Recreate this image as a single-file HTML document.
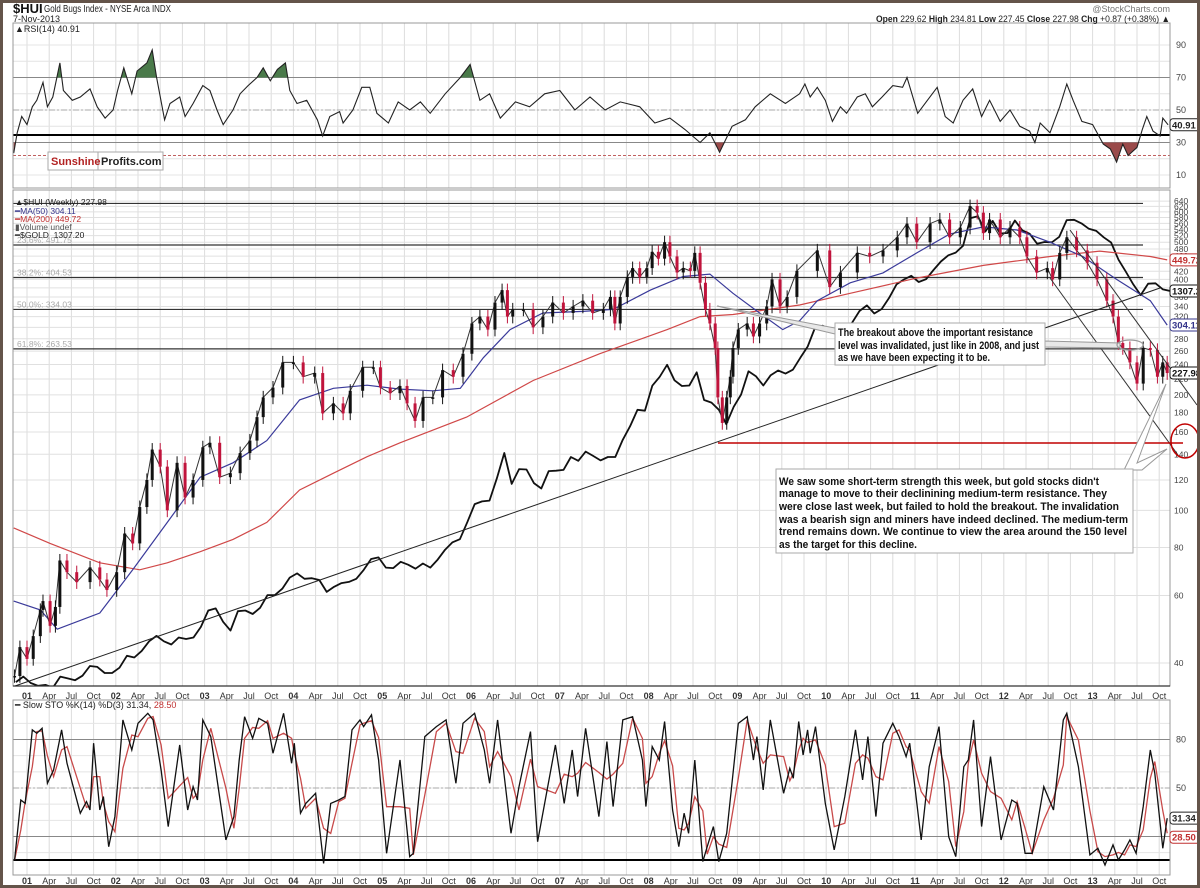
<!DOCTYPE html>
<html><head><meta charset="utf-8">
<style>
html,body{margin:0;padding:0;background:#fff;}
svg{display:block;font-family:"Liberation Sans",Arial,sans-serif;}
</style></head>
<body>
<svg id="chart" width="1200" height="888" viewBox="0 0 1200 888" xmlns="http://www.w3.org/2000/svg">
  <defs>
    <clipPath id="clipMain"><rect x="13" y="190" width="1157" height="496"/></clipPath>
    <clipPath id="clipRsi"><rect x="13" y="23" width="1157" height="165"/></clipPath>
    <clipPath id="clipSto"><rect x="13" y="700" width="1157" height="175"/></clipPath>
    <clipPath id="clipAbove70"><rect x="13" y="23" width="1157" height="54.5"/></clipPath>
    <clipPath id="clipBelow30"><rect x="13" y="142.5" width="1157" height="46"/></clipPath>
  </defs>
  <rect x="0" y="0" width="1200" height="888" fill="#fff"/>
  <g id="grid"></g>
  <g id="series"></g>
  <g id="labels"></g>

  <rect x="13" y="23" width="1157" height="165" fill="none" stroke="#999"/>
  <rect x="13" y="190" width="1157" height="496" fill="none" stroke="#999"/>
  <line x1="13" y1="686" x2="1170" y2="686" stroke="#333" stroke-width="1.2"/>
  <rect x="13" y="700" width="1157" height="175" fill="none" stroke="#999"/>

  <text x="13" y="13" font-size="13" font-weight="bold" fill="#111">$HUI</text>
  <text x="44" y="12" font-size="10" fill="#222" textLength="127" lengthAdjust="spacingAndGlyphs">Gold Bugs Index - NYSE Arca INDX</text>
  <text x="13" y="22" font-size="9" fill="#222">7-Nov-2013</text>
  <text x="1170" y="12" font-size="9" fill="#777" text-anchor="end">@StockCharts.com</text>
  <text x="1170" y="22" font-size="9.5" fill="#222" text-anchor="end" textLength="294" lengthAdjust="spacingAndGlyphs"><tspan font-weight="bold">Open</tspan> 229.62 <tspan font-weight="bold">High</tspan> 234.81 <tspan font-weight="bold">Low</tspan> 227.45 <tspan font-weight="bold">Close</tspan> 227.98 <tspan font-weight="bold">Chg</tspan> +0.87 (+0.38%) ▲</text>

  <text x="15" y="32" font-size="9" fill="#222">▲RSI(14) 40.91</text>

  <g>
    <rect x="48" y="152" width="115" height="18" fill="#fff" stroke="#aaa"/>
    <line x1="98" y1="152" x2="98" y2="170" stroke="#aaa"/>
    <text x="51" y="165" font-size="11" font-weight="bold" fill="#b22222">Sunshine</text>
    <text x="101" y="165" font-size="11" font-weight="bold" fill="#222">Profits.com</text>
  </g>

  <g font-size="8.5">
    <text x="15" y="205" fill="#222">▲$HUI (Weekly) 227.98</text>
    <text x="15" y="214" fill="#33338a">━MA(50) 304.11</text>
    <text x="15" y="222" fill="#c03030">━MA(200) 449.72</text>
    <text x="15" y="230" fill="#555">▮Volume undef</text>
    <text x="15" y="238" fill="#222">━$GOLD&#160; 1307.20</text>
  </g>

  <text x="15" y="708" font-size="9" fill="#222">━ Slow STO %K(14) %D(3) 31.34, <tspan fill="#c03030">28.50</tspan></text>

  <g id="annot">
    <line x1="15" y1="686" x2="1160" y2="288" stroke="#222" stroke-width="1"/>
    <line x1="1050" y1="278" x2="1178" y2="455" stroke="#333" stroke-width="1"/>
    <line x1="1070" y1="230" x2="1197" y2="405" stroke="#333" stroke-width="1"/>
    <line x1="718" y1="443" x2="1183" y2="443" stroke="#c00000" stroke-width="1.5"/>
    <ellipse cx="1185" cy="441" rx="14" ry="17" fill="none" stroke="#c00000" stroke-width="1.5"/>
    <polygon points="717,306 835,328 835,334" fill="#e8e8e8" stroke="#999" stroke-width="1"/>
    <polygon points="1045,341 1120,343 1120,348 1045,347" fill="#e8e8e8" stroke="#999" stroke-width="1"/>
    <ellipse cx="1130" cy="345" rx="13" ry="5" fill="none" stroke="#999" stroke-width="1.2"/>
    <rect x="835" y="323" width="210" height="42" fill="#fff" stroke="#aaa"/>
    <g font-size="11" font-weight="bold" fill="#111">
      <text x="838" y="336" textLength="195" lengthAdjust="spacingAndGlyphs">The breakout above the important resistance</text>
      <text x="838" y="349" textLength="201" lengthAdjust="spacingAndGlyphs">level was invalidated, just like in 2008, and just</text>
      <text x="838" y="361" textLength="152" lengthAdjust="spacingAndGlyphs">as we have been expecting it to be.</text>
    </g>
    <polygon points="1124,470 1166,384 1137,463 1167,449 1142,470" fill="#fff" stroke="#999" stroke-width="1"/>
    <rect x="776" y="469" width="357" height="84" fill="#fff" stroke="#aaa"/>
    <g font-size="11" font-weight="bold" fill="#111">
      <text x="779" y="485" textLength="320" lengthAdjust="spacingAndGlyphs">We saw some short-term strength this week, but gold stocks didn't</text>
      <text x="779" y="497" textLength="328" lengthAdjust="spacingAndGlyphs">manage to move to their declinining medium-term resistance. They</text>
      <text x="779" y="510" textLength="340" lengthAdjust="spacingAndGlyphs">were close last week, but failed to hold the breakout. The invalidation</text>
      <text x="779" y="523" textLength="349" lengthAdjust="spacingAndGlyphs">was a bearish sign and miners have indeed declined. The medium-term</text>
      <text x="779" y="535" textLength="348" lengthAdjust="spacingAndGlyphs">trend remains down. We continue to view the area around the 150 level</text>
      <text x="779" y="548" textLength="138" lengthAdjust="spacingAndGlyphs">as the target for this decline.</text>
    </g>
  </g>
  <g id="valueboxes"></g>
  <rect x="1.5" y="1.5" width="1197" height="885" fill="none" stroke="#64544a" stroke-width="3"/>
</svg>
<script>
const huiDates = [2000.86,2000.92,2001.00,2001.07,2001.15,2001.18,2001.26,2001.32,2001.37,2001.45,2001.56,2001.71,2001.82,2001.90,2002.01,2002.10,2002.19,2002.27,2002.35,2002.41,2002.50,2002.58,2002.69,2002.78,2002.87,2002.98,2003.06,2003.17,2003.29,2003.40,2003.51,2003.59,2003.66,2003.77,2003.88,2004.00,2004.11,2004.24,2004.33,2004.45,2004.56,2004.64,2004.78,2004.90,2004.98,2005.09,2005.20,2005.28,2005.37,2005.46,2005.57,2005.68,2005.80,2005.91,2006.01,2006.10,2006.19,2006.27,2006.35,2006.41,2006.47,2006.59,2006.70,2006.81,2006.92,2007.04,2007.15,2007.26,2007.37,2007.49,2007.57,2007.62,2007.68,2007.76,2007.82,2007.90,2007.98,2008.04,2008.11,2008.18,2008.24,2008.32,2008.39,2008.47,2008.52,2008.58,2008.64,2008.69,2008.75,2008.78,2008.83,2008.88,2008.92,2008.95,2009.01,2009.11,2009.18,2009.25,2009.33,2009.39,2009.48,2009.56,2009.67,2009.90,2010.04,2010.16,2010.35,2010.49,2010.64,2010.80,2010.91,2011.02,2011.17,2011.28,2011.39,2011.51,2011.62,2011.70,2011.77,2011.84,2011.96,2012.07,2012.18,2012.26,2012.37,2012.49,2012.55,2012.63,2012.71,2012.82,2012.94,2013.05,2013.16,2013.23,2013.29,2013.34,2013.42,2013.50,2013.57,2013.65,2013.73,2013.79,2013.84];
const huiClose = [37,44,41,47,55,58,50,56,74,69,65,71,66,62,69,87,82,102,120,144,130,100,133,108,120,146,150,122,125,141,152,175,197,209,243,243,223,228,179,190,179,205,236,236,209,202,211,190,171,197,197,232,223,256,307,320,296,348,375,320,334,334,300,320,348,327,340,352,327,334,360,307,360,406,428,406,428,472,453,500,459,417,428,421,469,392,334,307,265,197,169,197,223,265,296,307,284,307,340,400,340,360,421,476,382,417,469,459,476,515,559,500,559,573,515,546,621,597,528,573,515,546,515,459,417,428,400,469,515,476,442,400,352,320,273,265,243,214,265,262,223,243,228];

const ma50Dates = [2000.85,2001.15,2001.34,2001.82,2002.19,2002.58,2002.95,2003.32,2003.70,2004.07,2004.45,2004.83,2005.20,2005.57,2005.88,2006.14,2006.44,2006.81,2007.26,2007.60,2008.02,2008.39,2008.69,2008.95,2009.25,2009.51,2009.70,2009.90,2010.27,2010.64,2011.02,2011.39,2011.77,2012.15,2012.52,2012.89,2013.27,2013.65,2013.84];
const ma50Values = [58,55,49,54,70,93,122,133,152,194,208,212,207,205,208,250,296,327,330,334,375,407,413,368,327,296,312,352,392,416,469,525,548,538,500,459,400,352,304.11];

const ma200Dates = [2000.85,2001.26,2001.82,2002.27,2002.58,2002.95,2003.32,2003.70,2004.07,2004.45,2004.83,2005.20,2005.95,2006.70,2007.45,2008.21,2008.58,2008.95,2009.70,2010.27,2011.02,2011.77,2012.52,2013.08,2013.65,2013.84];
const ma200Values = [90,82,73,70,73,78,84,93,113,125,138,150,175,218,256,296,320,324,343,368,403,435,459,474,459,449.72];

const goldStart = 2000.875;
const goldMonthly = [266,272,
265,262,263,260,272,270,268,273,284,283,276,276,
282,296,294,302,314,321,314,310,319,317,319,333,
356,359,340,328,355,356,351,360,379,379,389,407,
414,405,406,403,384,392,398,400,405,420,439,442,
424,423,434,429,422,431,424,438,456,470,476,510,
549,555,557,610,676,596,633,632,598,585,628,629,
631,665,655,680,668,656,665,665,713,754,806,803,
889,922,968,909,888,890,939,839,830,806,760,816,
858,943,924,890,928,946,934,949,996,1043,1127,1135,
1118,1095,1114,1149,1205,1233,1193,1215,1271,1343,1370,1391,
1356,1372,1424,1474,1512,1529,1572,1759,1772,1665,1739,1652,
1656,1742,1674,1650,1585,1596,1594,1630,1745,1747,1722,1684,
1670,1627,1593,1485,1414,1343,1286,1347,1349,1316,1307.2];

const fibLevels = [631,491.75,404.53,334.03,263.53];
const fibNames = ["","23.6%: 491.75","38.2%: 404.53","50.0%: 334.03","61.8%: 263.53"];

const rsiDates = [2000.85,2000.89,2000.94,2001.00,2001.06,2001.11,2001.18,2001.23,2001.29,2001.37,2001.41,2001.51,2001.60,2001.71,2001.79,2001.88,2001.97,2002.02,2002.09,2002.18,2002.24,2002.35,2002.41,2002.46,2002.55,2002.61,2002.72,2002.78,2002.87,2002.98,2003.06,2003.14,2003.21,2003.32,2003.40,2003.49,2003.59,2003.66,2003.74,2003.82,2003.91,2003.96,2004.04,2004.15,2004.27,2004.33,2004.41,2004.52,2004.56,2004.67,2004.77,2004.86,2004.94,2005.07,2005.18,2005.31,2005.43,2005.54,2005.71,2005.88,2005.99,2006.10,2006.21,2006.33,2006.50,2006.66,2006.83,2007.00,2007.17,2007.34,2007.51,2007.68,2007.90,2008.07,2008.24,2008.41,2008.58,2008.69,2008.80,2008.94,2009.09,2009.20,2009.37,2009.54,2009.70,2009.76,2009.82,2009.90,2009.99,2010.07,2010.16,2010.23,2010.35,2010.44,2010.52,2010.63,2010.75,2010.86,2010.91,2011.03,2011.14,2011.25,2011.34,2011.43,2011.54,2011.65,2011.75,2011.84,2011.96,2012.07,2012.18,2012.29,2012.35,2012.41,2012.52,2012.63,2012.71,2012.78,2012.88,2013.00,2013.12,2013.20,2013.27,2013.34,2013.40,2013.50,2013.56,2013.61,2013.68,2013.76,2013.79,2013.85];
const rsiValues = [23.5,36,46,41,52,56,67,52,58,79,62,56,58,63,52,45,50,62,76,60,74,79,87,70,44,54,58,46,54,65,62,50,41,50,60,65,70,76,68,75,79,62,54,56,44,34,46,49,42,50,64,64,48,42,55,50,55,48,60,70,78,56,60,45,55,52,60,62,50,58,50,55,52,42,45,38,30,36,24,40,44,52,60,54,60,66,58,64,56,43,52,48,58,60,52,58,65,64,70,48,56,64,46,42,56,63,46,56,43,50,40,37,30,42,36,52,66,56,43,41,29,26,18,29,22,27,38,46,37,34,45,40.91];

const stoDates = [2000.86,2000.93,2000.98,2001.06,2001.11,2001.17,2001.23,2001.30,2001.39,2001.45,2001.60,2001.67,2001.71,2001.75,2001.82,2001.86,2001.92,2001.99,2002.08,2002.18,2002.25,2002.36,2002.42,2002.51,2002.59,2002.72,2002.81,2002.87,2002.92,2002.98,2003.07,2003.24,2003.33,2003.39,2003.45,2003.54,2003.61,2003.71,2003.77,2003.89,2003.98,2004.01,2004.08,2004.14,2004.25,2004.34,2004.42,2004.51,2004.58,2004.66,2004.75,2004.79,2004.88,2004.96,2005.05,2005.20,2005.31,2005.35,2005.48,2005.61,2005.72,2005.83,2005.91,2006.04,2006.15,2006.21,2006.30,2006.45,2006.54,2006.67,2006.75,2006.95,2007.05,2007.14,2007.20,2007.29,2007.44,2007.53,2007.60,2007.71,2007.82,2007.93,2007.97,2008.04,2008.12,2008.18,2008.27,2008.34,2008.40,2008.45,2008.52,2008.61,2008.66,2008.73,2008.79,2008.88,2009.01,2009.11,2009.18,2009.22,2009.29,2009.37,2009.52,2009.59,2009.63,2009.69,2009.74,2009.79,2009.82,2009.88,2009.99,2010.09,2010.21,2010.33,2010.41,2010.47,2010.56,2010.64,2010.75,2010.82,2010.90,2010.94,2011.07,2011.16,2011.27,2011.38,2011.46,2011.55,2011.60,2011.66,2011.75,2011.85,2011.97,2012.09,2012.15,2012.24,2012.32,2012.45,2012.56,2012.67,2012.71,2012.84,2012.97,2013.06,2013.14,2013.23,2013.29,2013.36,2013.42,2013.49,2013.57,2013.65,2013.70,2013.79,2013.84];
const stoK = [5.5,42.6,40.5,85.9,83.8,86.9,52.9,61.2,85.9,65.3,34.4,41.6,36.4,77.7,36.4,44.7,13.7,32.3,92.1,73.5,90.0,96.2,92.1,61.2,26.1,76.6,36.4,50.8,42.6,92.1,81.8,17.9,32.3,67.3,94.1,80.7,93.1,90.0,71.5,96.2,65.3,77.7,34.4,40.5,46.7,3.4,40.5,42.6,44.7,85.9,92.1,88.0,95.2,67.3,9.6,67.3,7.6,9.6,81.8,88.0,92.1,52.9,90.0,96.2,73.5,52.9,92.1,22.0,50.8,84.9,16.8,76.6,40.5,73.5,44.7,86.9,32.3,78.7,38.5,92.1,94.1,67.3,38.5,75.6,67.3,91.1,36.4,13.7,34.4,22.0,67.3,4.5,13.7,26.1,4.5,22.0,90.0,94.1,67.3,81.8,48.8,92.1,46.7,62.2,56.0,91.1,70.4,85.9,71.5,88.0,40.5,11.7,44.7,85.9,55.0,81.8,32.3,77.7,90.0,81.8,69.4,77.7,17.9,63.2,88.0,19.9,7.6,63.2,67.3,92.1,26.1,69.4,17.9,42.6,40.5,9.6,9.6,50.8,36.4,92.1,96.2,63.2,8.6,12.7,2.4,14.8,5.5,11.7,17.9,9.6,38.5,73.5,59.1,12.7,31.34];

const priceTicks = [40,60,80,100,120,140,160,180,200,220,240,260,280,300,320,340,360,380,400,420,440,460,480,500,520,540,560,580,600,620,640];
const rsiTicks = [10,30,50,70,90];
const stoTicks = [20,50,80];
const monthNames = ["","Apr","Jul","Oct"];

const xT = t => 27 + (t - 2001) * 88.8;
const yMain = v => 663 - 166.6 * Math.log(v / 40);
const yGold = g => 683 - 245.6 * Math.log(g / 265);
const yRsi = v => 110 - (v - 50) * 1.625;
const ySto = v => 788 - (v - 50) * 1.617;

const NS = 'http://www.w3.org/2000/svg';
function mk(tag, attrs, parent) {
  const e = document.createElementNS(NS, tag);
  for (const k in attrs) e.setAttribute(k, attrs[k]);
  parent.appendChild(e);
  return e;
}
const gGrid = document.getElementById('grid');
const gSeries = document.getElementById('series');
const gLabels = document.getElementById('labels');
const gBoxes = document.getElementById('valueboxes');

const panels = [[23,188],[190,686],[700,875]];
for (let q = 0; q <= 51; q++) {
  const t = 2001 + q / 4;
  const x = xT(t);
  if (x > 1170) break;
  for (const p of panels) {
    const l = mk('line', {x1:x, y1:p[0], x2:x, y2:p[1], stroke:'#dcdcdc', 'stroke-width':1}, gGrid);
    
    
  }
  const yr = Math.floor(t + 1e-6), qi = q % 4;
  const txt = qi === 0 ? String(yr % 100).padStart(2, '0') : monthNames[qi];
  for (const yy of [699, 884]) {
    const lab = mk('text', {x:x, y:yy, 'font-size':9, 'text-anchor':'middle', fill:'#333', 'font-weight': qi===0?'bold':'normal'}, gLabels);
    lab.textContent = txt;
    
    
  }
}
for (const v of priceTicks) {
  const y = yMain(v);
  const l = mk('line', {x1:13, y1:y, x2:1170, y2:y, stroke:'#e0e0e0', 'stroke-width':1}, gGrid);
  
  
  const lab = mk('text', {x:1174, y:y + 3, 'font-size':8.5, fill:'#444'}, gLabels);
  lab.textContent = v;
  
  
}
for (let v = 10; v <= 90; v += 10) {
  const l = mk('line', {x1:13, y1:yRsi(v), x2:1170, y2:yRsi(v), stroke:'#e4e4e4'}, gGrid);
  
  
  const l2 = mk('line', {x1:13, y1:ySto(v), x2:1170, y2:ySto(v), stroke:'#e4e4e4'}, gGrid);
  
  
}
for (const v of rsiTicks) {
  const lab = mk('text', {x:1176, y:yRsi(v) + 3, 'font-size':9, fill:'#444'}, gLabels);
  lab.textContent = v;
  
  
}
for (const v of stoTicks) {
  const lab = mk('text', {x:1176, y:ySto(v) + 3, 'font-size':9, fill:'#444'}, gLabels);
  lab.textContent = v;
  
  
}
[[70,'#888',1,''],[30,'#888',1,''],[50,'#aaa',1,'6,2,2,2'],[34.6,'#000',2,''],[22,'#c06060',1,'3,2']].forEach(r => {
  const l = mk('line', {x1:13, y1:yRsi(r[0]), x2:1170, y2:yRsi(r[0]), stroke:r[1], 'stroke-width':r[2]}, gGrid);
  if (r[3]) l.setAttribute('stroke-dasharray', r[3]);
  
  
});
[[80,'#888',1,''],[20,'#888',1,''],[50,'#aaa',1,'6,2,2,2'],[5.5,'#000',2,'']].forEach(r => {
  const l = mk('line', {x1:13, y1:ySto(r[0]), x2:1170, y2:ySto(r[0]), stroke:r[1], 'stroke-width':r[2]}, gGrid);
  if (r[3]) l.setAttribute('stroke-dasharray', r[3]);
  
  
});
fibLevels.forEach((v, i) => {
  const y = yMain(v);
  const l = mk('line', {x1:13, y1:y, x2:1143, y2:y, stroke:'#333', 'stroke-width':1.2}, gGrid);
  
  
  if (fibNames[i]) {
    const lab = mk('text', {x:17, y:y - 2, 'font-size':8.5, fill:'#aaa'}, gGrid);
    lab.textContent = fibNames[i];
    
    
  }
});

function poly(dates, vals, xf, yf, attrs, parent, name) {
  const pts = dates.map((d, i) => xf(d).toFixed(1) + ',' + yf(vals[i]).toFixed(1)).join(' ');
  const p = mk('polyline', Object.assign({points:pts, fill:'none'}, attrs), parent);
  
  
  return p;
}
const gMain = mk('g', {'clip-path':'url(#clipMain)'}, gSeries);



const goldDates = goldMonthly.map((_, i) => goldStart + i / 12);
poly(goldDates, goldMonthly, xT, yGold, {stroke:'#111', 'stroke-width':1.8, 'stroke-linejoin':'round'}, gMain, 'gold-line');
poly(ma200Dates, ma200Values, xT, yMain, {stroke:'#d04848', 'stroke-width':1.2}, gMain, 'ma200-line');
poly(ma50Dates, ma50Values, xT, yMain, {stroke:'#3a3a9a', 'stroke-width':1.2}, gMain, 'ma50-line');
poly(huiDates, huiClose, xT, yMain, {stroke:'#333', 'stroke-width':1}, gMain, 'hui-close-path');
huiDates.forEach((d, i) => {
  const c = huiClose[i], o = i > 0 ? huiClose[i - 1] : c;
  const hi = Math.max(o, c) * 1.04, lo = Math.min(o, c) * 0.96;
  const col = c < o ? '#c0143c' : '#111';
  const x = xT(d);
  const w = mk('line', {x1:x, y1:yMain(hi), x2:x, y2:yMain(lo), stroke:col, 'stroke-width':1}, gMain);
  
  
  const top = Math.min(yMain(o), yMain(c)), h = Math.max(1.5, Math.abs(yMain(o) - yMain(c)));
  const b = mk('rect', {x:x - 1.5, y:top, width:3, height:h, fill:col}, gMain);
  
  
});

const gR = mk('g', {'clip-path':'url(#clipRsi)'}, gSeries);


function areaPts(level) {
  let pts = xT(rsiDates[0]).toFixed(1) + ',' + yRsi(level);
  rsiDates.forEach((d, i) => { pts += ' ' + xT(d).toFixed(1) + ',' + yRsi(rsiValues[i]).toFixed(1); });
  pts += ' ' + xT(rsiDates[rsiDates.length - 1]).toFixed(1) + ',' + yRsi(level);
  return pts;
}
const ag = mk('polygon', {points:areaPts(70), fill:'#4a7a4a', 'clip-path':'url(#clipAbove70)'}, gR);


const ar = mk('polygon', {points:areaPts(30), fill:'#9a4a4a', 'clip-path':'url(#clipBelow30)'}, gR);


poly(rsiDates, rsiValues, xT, yRsi, {stroke:'#222', 'stroke-width':1.1}, gR, 'rsi-line');

const gS = mk('g', {'clip-path':'url(#clipSto)'}, gSeries);


const stoD = stoK.map((v, i) => i === 0 ? v : 0.5 * v + 0.5 * stoK[i - 1]);
poly(stoDates, stoD, xT, ySto, {stroke:'#c84a4a', 'stroke-width':1.3}, gS, 'sto-d-line');
poly(stoDates, stoK, xT, ySto, {stroke:'#111', 'stroke-width':1.3}, gS, 'sto-k-line');

function vbox(y, txt, col, name) {
  const r = mk('rect', {x:1170, y:y - 6, width:30, height:12, fill:'#fff', stroke:col, rx:3}, gBoxes);
  
  
  const t = mk('text', {x:1172, y:y + 3.5, 'font-size':9.5, 'font-weight':'bold', fill:col}, gBoxes);
  t.textContent = txt;
  
  
}
vbox(yRsi(rsiValues[rsiValues.length - 1]), '40.91', '#222', 'rsi-value-label');
vbox(yMain(ma200Values[ma200Values.length - 1]), '449.72', '#c03030', 'ma200-value-label');
vbox(yGold(goldMonthly[goldMonthly.length - 1]), '1307.20', '#111', 'gold-value-label');
vbox(yMain(ma50Values[ma50Values.length - 1]), '304.11', '#33338a', 'ma50-value-label');
vbox(yMain(huiClose[huiClose.length - 1]), '227.98', '#111', 'hui-value-label');
vbox(ySto(stoD[stoD.length - 1]) + 4, '28.50', '#c03030', 'sto-d-value-label');
vbox(ySto(stoK[stoK.length - 1]), '31.34', '#222', 'sto-k-value-label');
</script>
</body></html>
